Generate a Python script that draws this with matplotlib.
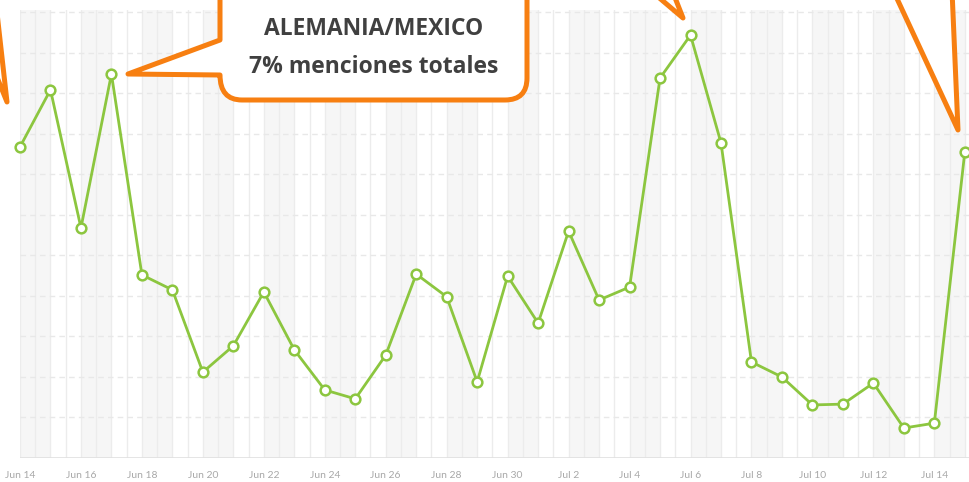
import matplotlib
matplotlib.use("Agg")
import matplotlib.pyplot as plt
from matplotlib.path import Path
from matplotlib.patches import PathPatch
from matplotlib.transforms import Affine2D

# --- data: one value per day, Jun 14 -> Jul 15 ---
days = (["Jun %d" % d for d in range(14, 31)] +
        ["Jul %d" % d for d in range(1, 16)])
mentions = [7.68, 9.09, 5.68, 9.48, 4.52, 4.15, 2.12, 2.77, 4.10, 2.67,
            1.68, 1.46, 2.54, 4.54, 3.98, 1.88, 4.49, 3.33, 5.60, 3.90,
            4.22, 9.38, 10.44, 7.78, 2.37, 2.00, 1.31, 1.33, 1.85, 0.74,
            0.86, 7.56]
callout_lines = ["ALEMANIA/MEXICO", "7% menciones totales"]

W, H = 970, 482
GREEN = "#8cc63f"
ORANGE = "#f77f11"

fig = plt.figure(figsize=(W / 100, H / 100), dpi=100, facecolor="white")
ax = fig.add_axes((20 / W, (H - 458) / H, (W - 20) / W, (458 - 10) / H))

x = list(range(len(days)))
ax.set_xlim(0, 31.17)
ax.set_ylim(0, 11.06)

# alternating day bands + half-day separators
for i in range(0, len(days), 2):
    ax.axvspan(i, i + 1, color="#f6f6f6", lw=0, zorder=0)
for k in range(0, 63):
    ax.axvline(k / 2, color="#ececec", lw=1, zorder=0.5)
for g in range(1, 12):
    ax.axhline(g, color="#e8e8e8", lw=1, ls=(0, (4, 3)), zorder=0.6)
ax.axhline(0, color="#e0e0e0", lw=1.2, zorder=0.7)

ax.plot(x, mentions, color=GREEN, lw=2, marker="o", ms=7,
        mfc="white", mec=GREEN, mew=1.8, zorder=3, clip_on=False)

for s in ax.spines.values():
    s.set_visible(False)
ax.set_yticks([])
ax.set_xticks(x[::2])
ax.set_xticklabels(days[::2], fontsize=7.5, color="#a8a8a8", family="Lato")
ax.tick_params(axis="x", length=0, pad=9)

# --- callouts, drawn in pixel space (y down) ---
px = Affine2D().scale(1 / W, -1 / H).translate(0, 1) + fig.transFigure


def shape(verts, codes=None):
    p = PathPatch(Path(verts, codes), transform=px, facecolor="white",
                  edgecolor=ORANGE, lw=3.6, joinstyle="round",
                  capstyle="round", zorder=5)
    fig.add_artist(p)


L, M, C, Q = Path.MOVETO, Path.LINETO, Path.CLOSEPOLY, Path.CURVE3
r = 22
box = [(220, -30), (220, 40), (128, 74), (220, 75),
       (220, 100), (220 + r, 100), (527 - r, 100), (527, 100), (527, 100 - r),
       (527, -30), (220, -30)]
codes = [L, M, M, M, Q, Q, M, Q, Q, M, C]
shape(box, codes)

shape([(-5, -5), (7, 102), (-14, 50), (-5, -5)], [L, M, M, C])
shape([(650, -10), (683, 18), (672, -10), (650, -10)], [L, M, M, C])
shape([(893, -10), (958, 130), (952, -10), (893, -10)], [L, M, M, C])

for text, base in zip(callout_lines, (35, 73)):
    fig.text(373.5 / W, 1 - base / H, text, ha="center", va="baseline",
             fontsize=16.5, fontweight="bold", color="#404040",
             family="Open Sans", zorder=6)

fig.savefig("out.png", dpi=100, facecolor="white")
